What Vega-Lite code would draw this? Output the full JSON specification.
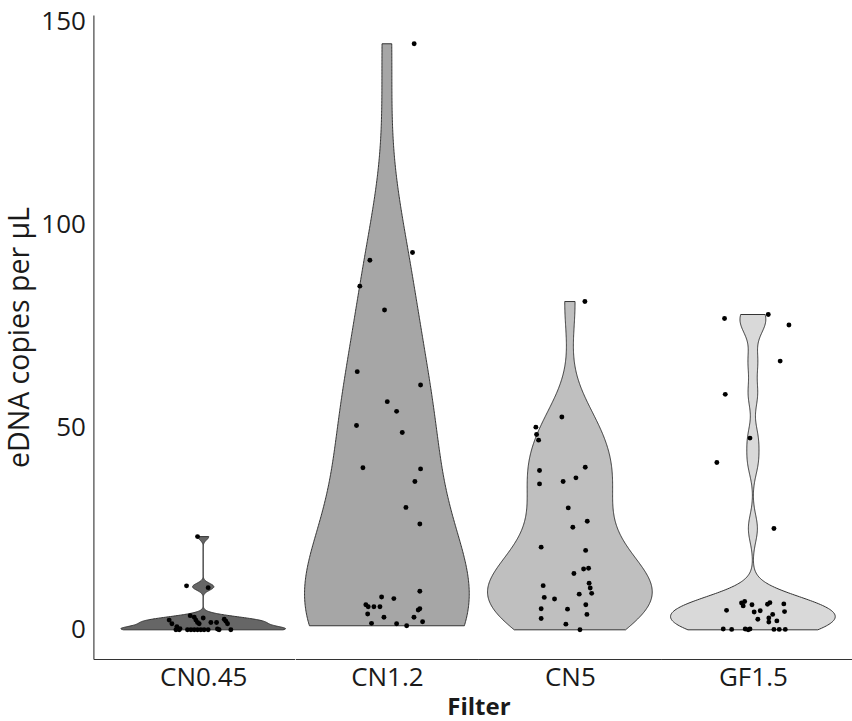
{
  "$schema": "https://vega.github.io/schema/vega-lite/v6.json",
  "background": "white",
  "padding": {"left": 5.4, "top": 8, "right": 0, "bottom": 6},
  "spacing": 0,
  "bounds": "flush",
  "config": {"view": {"stroke": null}, "axis": {"tickSize": 0}},
  "datasets": {
    "pts": [
      {"Filter": "CN0.45", "copies": 2.4, "jitter": -0.186},
      {"Filter": "CN0.45", "copies": 1.5, "jitter": -0.171},
      {"Filter": "CN0.45", "copies": 0.8, "jitter": -0.144},
      {"Filter": "CN0.45", "copies": 0, "jitter": -0.149},
      {"Filter": "CN0.45", "copies": 0.3, "jitter": -0.127},
      {"Filter": "CN0.45", "copies": 0, "jitter": -0.086},
      {"Filter": "CN0.45", "copies": 0, "jitter": -0.067},
      {"Filter": "CN0.45", "copies": 0, "jitter": -0.049},
      {"Filter": "CN0.45", "copies": 0, "jitter": -0.031},
      {"Filter": "CN0.45", "copies": 0, "jitter": -0.013},
      {"Filter": "CN0.45", "copies": 0, "jitter": 0.005},
      {"Filter": "CN0.45", "copies": 0, "jitter": 0.027},
      {"Filter": "CN0.45", "copies": 3.5, "jitter": -0.071},
      {"Filter": "CN0.45", "copies": 3.1, "jitter": -0.049},
      {"Filter": "CN0.45", "copies": 1.8, "jitter": -0.031},
      {"Filter": "CN0.45", "copies": 1.5, "jitter": -0.022},
      {"Filter": "CN0.45", "copies": 2.9, "jitter": 0.0},
      {"Filter": "CN0.45", "copies": 1.8, "jitter": 0.042},
      {"Filter": "CN0.45", "copies": 1.8, "jitter": 0.073},
      {"Filter": "CN0.45", "copies": 0.2, "jitter": 0.078},
      {"Filter": "CN0.45", "copies": 2.6, "jitter": 0.115},
      {"Filter": "CN0.45", "copies": 2.1, "jitter": 0.124},
      {"Filter": "CN0.45", "copies": 1.5, "jitter": 0.133},
      {"Filter": "CN0.45", "copies": 0, "jitter": 0.151},
      {"Filter": "CN0.45", "copies": 23.0, "jitter": -0.031},
      {"Filter": "CN0.45", "copies": 10.85, "jitter": -0.091},
      {"Filter": "CN0.45", "copies": 10.4, "jitter": 0.027},
      {"Filter": "CN0.45", "copies": 2.4, "jitter": -0.04},
      {"Filter": "CN0.45", "copies": 0, "jitter": 0.087},
      {"Filter": "CN0.45", "copies": 0, "jitter": -0.131},
      {"Filter": "CN1.2", "copies": 144.6, "jitter": 0.149},
      {"Filter": "CN1.2", "copies": 93.1, "jitter": 0.14},
      {"Filter": "CN1.2", "copies": 91.2, "jitter": -0.093},
      {"Filter": "CN1.2", "copies": 84.8, "jitter": -0.148},
      {"Filter": "CN1.2", "copies": 78.9, "jitter": -0.013},
      {"Filter": "CN1.2", "copies": 63.7, "jitter": -0.162},
      {"Filter": "CN1.2", "copies": 60.4, "jitter": 0.184},
      {"Filter": "CN1.2", "copies": 56.3, "jitter": 0.002},
      {"Filter": "CN1.2", "copies": 53.9, "jitter": 0.053},
      {"Filter": "CN1.2", "copies": 50.4, "jitter": -0.166},
      {"Filter": "CN1.2", "copies": 48.7, "jitter": 0.084},
      {"Filter": "CN1.2", "copies": 40.0, "jitter": -0.131},
      {"Filter": "CN1.2", "copies": 39.7, "jitter": 0.184},
      {"Filter": "CN1.2", "copies": 36.6, "jitter": 0.153},
      {"Filter": "CN1.2", "copies": 30.2, "jitter": 0.104},
      {"Filter": "CN1.2", "copies": 26.1, "jitter": 0.18},
      {"Filter": "CN1.2", "copies": 9.5, "jitter": 0.18},
      {"Filter": "CN1.2", "copies": 8.1, "jitter": -0.029},
      {"Filter": "CN1.2", "copies": 7.7, "jitter": 0.038},
      {"Filter": "CN1.2", "copies": 6.2, "jitter": -0.115},
      {"Filter": "CN1.2", "copies": 5.7, "jitter": -0.102},
      {"Filter": "CN1.2", "copies": 5.7, "jitter": -0.071},
      {"Filter": "CN1.2", "copies": 5.7, "jitter": -0.038},
      {"Filter": "CN1.2", "copies": 3.9, "jitter": -0.105},
      {"Filter": "CN1.2", "copies": 3.1, "jitter": -0.016},
      {"Filter": "CN1.2", "copies": 4.9, "jitter": 0.171},
      {"Filter": "CN1.2", "copies": 5.2, "jitter": 0.18},
      {"Filter": "CN1.2", "copies": 3.1, "jitter": 0.148},
      {"Filter": "CN1.2", "copies": 2.0, "jitter": 0.195},
      {"Filter": "CN1.2", "copies": 1.6, "jitter": -0.084},
      {"Filter": "CN1.2", "copies": 1.5, "jitter": 0.053},
      {"Filter": "CN1.2", "copies": 1.0, "jitter": 0.108},
      {"Filter": "CN5", "copies": 81.0, "jitter": 0.082},
      {"Filter": "CN5", "copies": 52.5, "jitter": -0.044},
      {"Filter": "CN5", "copies": 50.0, "jitter": -0.186},
      {"Filter": "CN5", "copies": 48.2, "jitter": -0.182},
      {"Filter": "CN5", "copies": 46.8, "jitter": -0.171},
      {"Filter": "CN5", "copies": 40.1, "jitter": 0.084},
      {"Filter": "CN5", "copies": 39.3, "jitter": -0.166},
      {"Filter": "CN5", "copies": 37.5, "jitter": 0.033},
      {"Filter": "CN5", "copies": 36.6, "jitter": -0.037},
      {"Filter": "CN5", "copies": 36.0, "jitter": -0.166},
      {"Filter": "CN5", "copies": 30.1, "jitter": -0.009},
      {"Filter": "CN5", "copies": 26.8, "jitter": 0.095},
      {"Filter": "CN5", "copies": 25.3, "jitter": 0.016},
      {"Filter": "CN5", "copies": 20.4, "jitter": -0.157},
      {"Filter": "CN5", "copies": 19.6, "jitter": 0.086},
      {"Filter": "CN5", "copies": 15.2, "jitter": 0.102},
      {"Filter": "CN5", "copies": 15.0, "jitter": 0.075},
      {"Filter": "CN5", "copies": 13.9, "jitter": 0.022},
      {"Filter": "CN5", "copies": 11.5, "jitter": 0.105},
      {"Filter": "CN5", "copies": 10.3, "jitter": 0.111},
      {"Filter": "CN5", "copies": 9.0, "jitter": 0.119},
      {"Filter": "CN5", "copies": 10.9, "jitter": -0.146},
      {"Filter": "CN5", "copies": 8.0, "jitter": -0.14},
      {"Filter": "CN5", "copies": 7.6, "jitter": -0.084},
      {"Filter": "CN5", "copies": 8.8, "jitter": 0.051},
      {"Filter": "CN5", "copies": 6.2, "jitter": 0.087},
      {"Filter": "CN5", "copies": 5.2, "jitter": -0.157},
      {"Filter": "CN5", "copies": 5.1, "jitter": -0.013},
      {"Filter": "CN5", "copies": 3.8, "jitter": 0.093},
      {"Filter": "CN5", "copies": 2.8, "jitter": -0.157},
      {"Filter": "CN5", "copies": 1.4, "jitter": -0.022},
      {"Filter": "CN5", "copies": 0.0, "jitter": 0.055},
      {"Filter": "GF1.5", "copies": 77.8, "jitter": 0.084},
      {"Filter": "GF1.5", "copies": 76.8, "jitter": -0.155},
      {"Filter": "GF1.5", "copies": 75.2, "jitter": 0.197},
      {"Filter": "GF1.5", "copies": 66.3, "jitter": 0.149},
      {"Filter": "GF1.5", "copies": 58.1, "jitter": -0.151},
      {"Filter": "GF1.5", "copies": 47.3, "jitter": -0.016},
      {"Filter": "GF1.5", "copies": 41.3, "jitter": -0.197},
      {"Filter": "GF1.5", "copies": 25.0, "jitter": 0.115},
      {"Filter": "GF1.5", "copies": 4.8, "jitter": -0.144},
      {"Filter": "GF1.5", "copies": 6.6, "jitter": -0.062},
      {"Filter": "GF1.5", "copies": 5.9, "jitter": -0.053},
      {"Filter": "GF1.5", "copies": 7.0, "jitter": -0.045},
      {"Filter": "GF1.5", "copies": 6.2, "jitter": -0.005},
      {"Filter": "GF1.5", "copies": 4.4, "jitter": 0.007},
      {"Filter": "GF1.5", "copies": 4.7, "jitter": 0.04},
      {"Filter": "GF1.5", "copies": 2.6, "jitter": 0.027},
      {"Filter": "GF1.5", "copies": 6.3, "jitter": 0.08},
      {"Filter": "GF1.5", "copies": 6.7, "jitter": 0.093},
      {"Filter": "GF1.5", "copies": 3.8, "jitter": 0.108},
      {"Filter": "GF1.5", "copies": 2.9, "jitter": 0.087},
      {"Filter": "GF1.5", "copies": 1.9, "jitter": 0.087},
      {"Filter": "GF1.5", "copies": 2.2, "jitter": 0.131},
      {"Filter": "GF1.5", "copies": 6.4, "jitter": 0.169},
      {"Filter": "GF1.5", "copies": 4.5, "jitter": 0.173},
      {"Filter": "GF1.5", "copies": 0.2, "jitter": -0.162},
      {"Filter": "GF1.5", "copies": 0.1, "jitter": -0.116},
      {"Filter": "GF1.5", "copies": 0.2, "jitter": -0.042},
      {"Filter": "GF1.5", "copies": 0.2, "jitter": -0.016},
      {"Filter": "GF1.5", "copies": 0.0, "jitter": -0.026},
      {"Filter": "GF1.5", "copies": 0.1, "jitter": 0.115},
      {"Filter": "GF1.5", "copies": 0.1, "jitter": 0.144},
      {"Filter": "GF1.5", "copies": 0.1, "jitter": 0.177}
    ]
  },
  "hconcat": [
    {
      "width": 201.3,
      "height": 644,
      "data": {"name": "pts"},
      "transform": [{"filter": "datum.Filter === 'CN0.45'"}],
      "encoding": {
        "y": {
          "field": "copies", "type": "quantitative",
          "scale": {"domain": [-7.2, 151.7], "nice": false, "zero": false},
          "axis": {
            "title": "eDNA copies per µL", "values": [0, 50, 100, 150], "grid": false, "ticks": false,
            "domain": true, "domainColor": "#333333", "domainWidth": 1.1,
            "labelFont": "Open Sans", "labelFontSize": 26, "labelColor": "#1a1a1a", "labelPadding": 8,
            "titleFont": "Open Sans", "titleFontSize": 28.5, "titleFontWeight": "normal", "titleColor": "#1a1a1a", "titlePadding": 6
          }
        }
      },
      "layer": [
        {
          "transform": [{"density": "copies", "bandwidth": 0.82, "steps": 400, "as": ["copies", "density"]}],
          "mark": {"type": "area", "orient": "horizontal", "fill": "#666666", "stroke": "#333333", "strokeWidth": 1, "opacity": 1},
          "encoding": {
            "x": {"field": "density", "type": "quantitative", "stack": "center", "impute": null,
                  "scale": {"nice": false, "zero": false, "range": [27.45, 192.15]}, "axis": null}
          }
        },
        {
          "mark": {"type": "circle", "size": 24, "color": "black", "opacity": 1},
          "encoding": {
            "x": {"field": "jitter", "type": "quantitative",
                  "scale": {"domain": [-0.6, 0.5], "nice": false, "zero": false},
                  "axis": {"values": [0], "labelExpr": "'CN0.45'", "title": null, "grid": false, "ticks": false,
                           "domain": true, "domainColor": "#333333", "domainWidth": 1.1,
                           "labelFont": "Open Sans", "labelFontSize": 26, "labelColor": "#1a1a1a", "labelPadding": 6}}
          }
        }
      ],
      "resolve": {"scale": {"x": "independent"}}
    },
    {
      "width": 183,
      "height": 644,
      "data": {"name": "pts"},
      "transform": [{"filter": "datum.Filter === 'CN1.2'"}],
      "encoding": {
        "y": {"field": "copies", "type": "quantitative", "scale": {"domain": [-7.2, 151.7], "nice": false, "zero": false}, "axis": null}
      },
      "layer": [
        {
          "transform": [{"density": "copies", "bandwidth": 19, "steps": 400, "as": ["copies", "density"]}],
          "mark": {"type": "area", "orient": "horizontal", "fill": "#a6a6a6", "stroke": "#333333", "strokeWidth": 1, "opacity": 1},
          "encoding": {
            "x": {"field": "density", "type": "quantitative", "stack": "center", "impute": null,
                  "scale": {"nice": false, "zero": false, "range": [9.15, 173.85]}, "axis": null}
          }
        },
        {
          "mark": {"type": "circle", "size": 24, "color": "black", "opacity": 1},
          "encoding": {
            "x": {"field": "jitter", "type": "quantitative",
                  "scale": {"domain": [-0.5, 0.5], "nice": false, "zero": false},
                  "axis": {"values": [0], "labelExpr": "'CN1.2'", "title": "Filter", "grid": false, "ticks": false,
                           "domain": true, "domainColor": "#333333", "domainWidth": 1.1,
                           "labelFont": "Open Sans", "labelFontSize": 26, "labelColor": "#1a1a1a", "labelPadding": 6,
                           "titleFont": "Open Sans", "titleFontSize": 24, "titleFontWeight": "bold", "titleColor": "#1a1a1a",
                           "titleAnchor": "end", "titleAlign": "center", "titlePadding": 5}}
          }
        }
      ],
      "resolve": {"scale": {"x": "independent"}}
    },
    {
      "width": 183,
      "height": 644,
      "data": {"name": "pts"},
      "transform": [{"filter": "datum.Filter === 'CN5'"}],
      "encoding": {
        "y": {"field": "copies", "type": "quantitative", "scale": {"domain": [-7.2, 151.7], "nice": false, "zero": false}, "axis": null}
      },
      "layer": [
        {
          "transform": [{"density": "copies", "bandwidth": 8.5, "steps": 400, "as": ["copies", "density"]}],
          "mark": {"type": "area", "orient": "horizontal", "fill": "#bfbfbf", "stroke": "#333333", "strokeWidth": 1, "opacity": 1},
          "encoding": {
            "x": {"field": "density", "type": "quantitative", "stack": "center", "impute": null,
                  "scale": {"nice": false, "zero": false, "range": [9.15, 173.85]}, "axis": null}
          }
        },
        {
          "mark": {"type": "circle", "size": 24, "color": "black", "opacity": 1},
          "encoding": {
            "x": {"field": "jitter", "type": "quantitative",
                  "scale": {"domain": [-0.5, 0.5], "nice": false, "zero": false},
                  "axis": {"values": [0], "labelExpr": "'CN5'", "title": null, "grid": false, "ticks": false,
                           "domain": true, "domainColor": "#333333", "domainWidth": 1.1,
                           "labelFont": "Open Sans", "labelFontSize": 26, "labelColor": "#1a1a1a", "labelPadding": 6}}
          }
        }
      ],
      "resolve": {"scale": {"x": "independent"}}
    },
    {
      "width": 201.3,
      "height": 644,
      "data": {"name": "pts"},
      "transform": [{"filter": "datum.Filter === 'GF1.5'"}],
      "encoding": {
        "y": {"field": "copies", "type": "quantitative", "scale": {"domain": [-7.2, 151.7], "nice": false, "zero": false}, "axis": null}
      },
      "layer": [
        {
          "transform": [{"density": "copies", "bandwidth": 3.4, "steps": 400, "as": ["copies", "density"]}],
          "mark": {"type": "area", "orient": "horizontal", "fill": "#d9d9d9", "stroke": "#333333", "strokeWidth": 1, "opacity": 1},
          "encoding": {
            "x": {"field": "density", "type": "quantitative", "stack": "center", "impute": null,
                  "scale": {"nice": false, "zero": false, "range": [9.15, 173.85]}, "axis": null}
          }
        },
        {
          "mark": {"type": "circle", "size": 24, "color": "black", "opacity": 1},
          "encoding": {
            "x": {"field": "jitter", "type": "quantitative",
                  "scale": {"domain": [-0.5, 0.6], "nice": false, "zero": false},
                  "axis": {"values": [0], "labelExpr": "'GF1.5'", "title": null, "grid": false, "ticks": false,
                           "domain": true, "domainColor": "#333333", "domainWidth": 1.1,
                           "labelFont": "Open Sans", "labelFontSize": 26, "labelColor": "#1a1a1a", "labelPadding": 6}}
          }
        }
      ],
      "resolve": {"scale": {"x": "independent"}}
    }
  ]
}
